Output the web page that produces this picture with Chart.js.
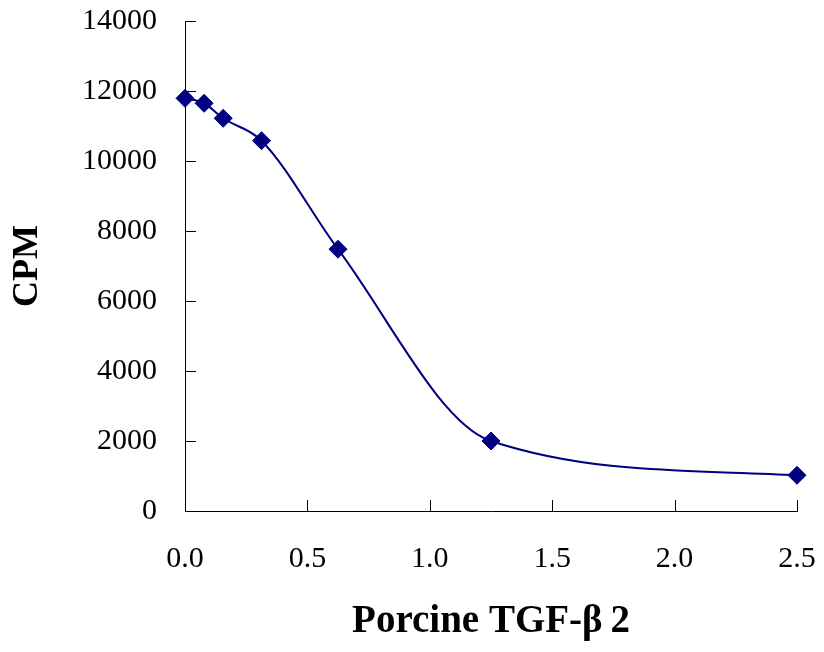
<!DOCTYPE html>
<html>
<head>
<meta charset="utf-8">
<script src="https://cdn.jsdelivr.net/npm/chart.js@4.4.1/dist/chart.umd.min.js"></script>
<style>
    html, body { margin: 0; padding: 0; background: #fff; }
    #wrap { width: 824px; height: 652px; }
</style>
</head>
<body>
<div id="wrap"><canvas id="cpmChart" width="824" height="652"></canvas></div>
<script>
const doses = [0, 0.078, 0.156, 0.3125, 0.625, 1.25, 2.5];
const cpm = [11790, 11650, 11220, 10580, 7480, 2000, 1020];
const xTicks = [0, 0.5, 1.0, 1.5, 2.0, 2.5];
const yTicks = [0, 2000, 4000, 6000, 8000, 10000, 12000, 14000];

const serif = 'Liberation Serif, Times New Roman, serif';

// Excel-style tick marks pointing into the plot area
const inwardTicks = {
    id: 'inwardTicks',
    afterDatasetsDraw(chart) {
        const { ctx, chartArea, scales } = chart;
        ctx.save();
        ctx.strokeStyle = '#000';
        ctx.lineWidth = 1;
        ctx.beginPath();
        yTicks.forEach(v => {
            const y = Math.round(scales.y.getPixelForValue(v)) + 0.5;
            ctx.moveTo(chartArea.left, y);
            ctx.lineTo(chartArea.left + 11, y);
        });
        xTicks.forEach(v => {
            const x = Math.round(scales.x.getPixelForValue(v)) + 0.5;
            ctx.moveTo(x, chartArea.bottom);
            ctx.lineTo(x, chartArea.bottom - 11);
        });
        ctx.stroke();
        ctx.restore();
    }
};

// invisible outer ticks only used as spacing between axis and labels
const spacerGrid = (len) => ({
    display: true,
    drawOnChartArea: false,
    drawTicks: true,
    tickLength: len,
    color: 'rgba(0,0,0,0)'
});

new Chart(document.getElementById('cpmChart').getContext('2d'), {
    type: 'line',
    data: {
        datasets: [{
            data: doses.map((d, i) => ({ x: d, y: cpm[i] })),
            borderColor: '#000080',
            backgroundColor: '#000080',
            borderWidth: 2,
            cubicInterpolationMode: 'monotone',
            pointStyle: 'rectRot',
            pointRadius: 9,
            pointHoverRadius: 9,
            pointBorderWidth: 1,
            clip: false,
            fill: false
        }]
    },
    options: {
        responsive: false,
        animation: false,
        layout: { padding: { top: 21, right: 27, left: 0, bottom: 0 } },
        plugins: {
            legend: { display: false },
            tooltip: { enabled: false }
        },
        scales: {
            x: {
                type: 'linear',
                min: 0,
                max: 2.5,
                afterBuildTicks: (s) => { s.ticks = xTicks.map(v => ({ value: v })); },
                afterFit: (s) => { s.height = 141; },
                grid: spacerGrid(30),
                border: { display: true, color: '#000', width: 1 },
                ticks: {
                    padding: 0,
                    color: '#000',
                    font: { family: serif, size: 30 },
                    callback: (v) => Number(v).toFixed(1)
                },
                title: {
                    display: true,
                    text: 'Porcine TGF-\u03B2\u20092',
                    color: '#000',
                    font: { family: serif, size: 39, weight: 'bold' },
                    padding: { top: 0, bottom: 7 }
                }
            },
            y: {
                min: 0,
                max: 14000,
                afterBuildTicks: (s) => { s.ticks = yTicks.map(v => ({ value: v })); },
                afterFit: (s) => { s.width = 185; },
                grid: spacerGrid(28),
                border: { display: true, color: '#000', width: 1 },
                ticks: {
                    padding: 0,
                    color: '#000',
                    font: { family: serif, size: 30 },
                    callback: (v) => String(v)
                },
                title: {
                    display: true,
                    text: 'CPM',
                    color: '#000',
                    font: { family: serif, size: 36, weight: 'bold' },
                    padding: { top: 6, bottom: 0 }
                }
            }
        }
    },
    plugins: [inwardTicks]
});
</script>
</body>
</html>
